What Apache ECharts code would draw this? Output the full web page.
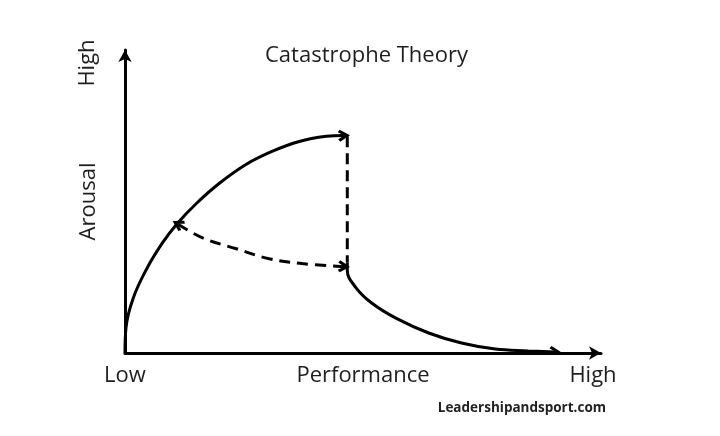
<!DOCTYPE html>
<html>
<head>
<meta charset="utf-8">
<script src="https://cdn.jsdelivr.net/npm/echarts@6/dist/echarts.min.js"></script>
<style>
  html, body { margin: 0; padding: 0; background: #fff; }
  #chart { width: 720px; height: 436px; }
</style>
</head>
<body>
<div id="chart"></div>
<script>
// tick labels along the performance axis (at 0, 50, 100)
var xTickLabels = ['Low', 'Performance', 'High'];

// upper branch: arousal rising with performance
var upperBranch = [[0, 0], [0.2, 8.2], [1.7, 18.0], [4.6, 27.9], [7.9, 36.4], [10.9, 42.6],
    [15.1, 49.5], [19.9, 56.1], [25.5, 62.3], [31.0, 66.6], [36.6, 69.8], [42.3, 71.5], [46.0, 71.8]];

// catastrophic drop
var dropLine = [[46.7, 71.5], [46.7, 29.8]];

// recovery path back onto the upper branch (drawn from right to left)
var recoveryPath = [[46.0, 28.5], [37.2, 29.5], [30.3, 31.1], [23.4, 34.4], [16.3, 38.0], [11.1, 42.6]];

// lower branch after the collapse
var lowerBranch = [[46.7, 29.8], [46.7, 27.2], [48.5, 21.6], [51.9, 16.4], [56.9, 11.5],
    [63.8, 6.6], [70.7, 3.3], [77.8, 1.3], [84.7, 0.7], [90.4, 0.3]];

// open arrow head, pointing up (the lines series turns it along the segment)
var chevron = 'path://M5,0 L10,8 L8,9.6 L5,4.6 L2,9.6 L0,8 Z';

function lastSegment(arr) {
    return [arr[arr.length - 2], arr[arr.length - 1]];
}

var chart = echarts.init(document.getElementById('chart'));

var lineBase = {
    type: 'line',
    symbol: 'none',
    silent: true,
    lineStyle: { color: '#000', width: 3 }
};

var option = {
    animation: false,
    backgroundColor: '#fff',
    title: {
        text: 'Catastrophe Theory',
        left: 265,
        top: 45,
        padding: 0,
        textStyle: {
            fontFamily: '"Open Sans"',
            fontSize: 22,
            fontWeight: 'normal',
            color: '#1e1e1e'
        }
    },
    grid: {
        left: 125,
        right: 119,
        top: 50,
        bottom: 83
    },
    xAxis: {
        type: 'value',
        min: 0,
        max: 100,
        interval: 50,
        axisLine: {
            lineStyle: { color: '#000', width: 3 },
            symbol: ['none', 'arrow'],
            symbolSize: [10, 12]
        },
        axisTick: { show: false },
        splitLine: { show: false },
        axisLabel: {
            margin: 12,
            showMinLabel: true,
            showMaxLabel: true,
            fontFamily: '"Open Sans"',
            fontSize: 22,
            color: '#1e1e1e',
            formatter: function (v) {
                var i = Math.round(v / 50);
                if (i === 2) {
                    return '{hi|' + xTickLabels[i] + '}';
                }
                return xTickLabels[i];
            },
            rich: {
                hi: {
                    fontFamily: '"Open Sans"',
                    fontSize: 22,
                    color: '#1e1e1e',
                    padding: [0, 16, 0, 0]
                }
            }
        }
    },
    yAxis: {
        type: 'value',
        min: 0,
        max: 100,
        name: 'Arousal',
        nameLocation: 'middle',
        nameRotate: 90,
        nameGap: 25,
        nameTextStyle: {
            fontFamily: '"Open Sans"',
            fontSize: 22,
            color: '#1e1e1e'
        },
        axisLine: {
            lineStyle: { color: '#000', width: 3 },
            symbol: ['none', 'arrow'],
            symbolSize: [10, 12]
        },
        axisTick: { show: false },
        axisLabel: { show: false },
        splitLine: { show: false }
    },
    graphic: [
        {
            type: 'text',
            x: 88,
            y: 63,
            rotation: Math.PI / 2,
            style: {
                text: 'High',
                font: '22px "Open Sans"',
                fill: '#1e1e1e',
                textAlign: 'center',
                textVerticalAlign: 'middle'
            }
        },
        {
            type: 'text',
            right: 114,
            top: 401,
            style: {
                text: 'Leadershipandsport.com',
                font: 'bold 13.5px "Open Sans"',
                fill: '#222'
            }
        }
    ],
    series: [
        Object.assign({}, lineBase, {
            name: 'upper',
            smooth: 0.4,
            data: upperBranch
        }),
        Object.assign({}, lineBase, {
            name: 'drop',
            data: dropLine,
            lineStyle: { color: '#000', width: 3, type: [11, 6] }
        }),
        Object.assign({}, lineBase, {
            name: 'recovery',
            smooth: 0.4,
            data: recoveryPath,
            lineStyle: { color: '#000', width: 3, type: [11, 7] }
        }),
        Object.assign({}, lineBase, {
            name: 'lower',
            smooth: 0.4,
            data: lowerBranch
        }),
        {
            // arrow heads only: the segments themselves are not stroked
            type: 'lines',
            coordinateSystem: 'cartesian2d',
            silent: true,
            symbol: ['none', chevron],
            symbolSize: 12,
            lineStyle: { color: '#000', width: 0, opacity: 1 },
            data: [
                { coords: lastSegment(upperBranch) },
                { coords: lastSegment(lowerBranch) },
                { coords: [recoveryPath[1], recoveryPath[0]] },
                { coords: lastSegment(recoveryPath) }
            ]
        }
    ]
};

chart.setOption(option);
</script>
</body>
</html>
